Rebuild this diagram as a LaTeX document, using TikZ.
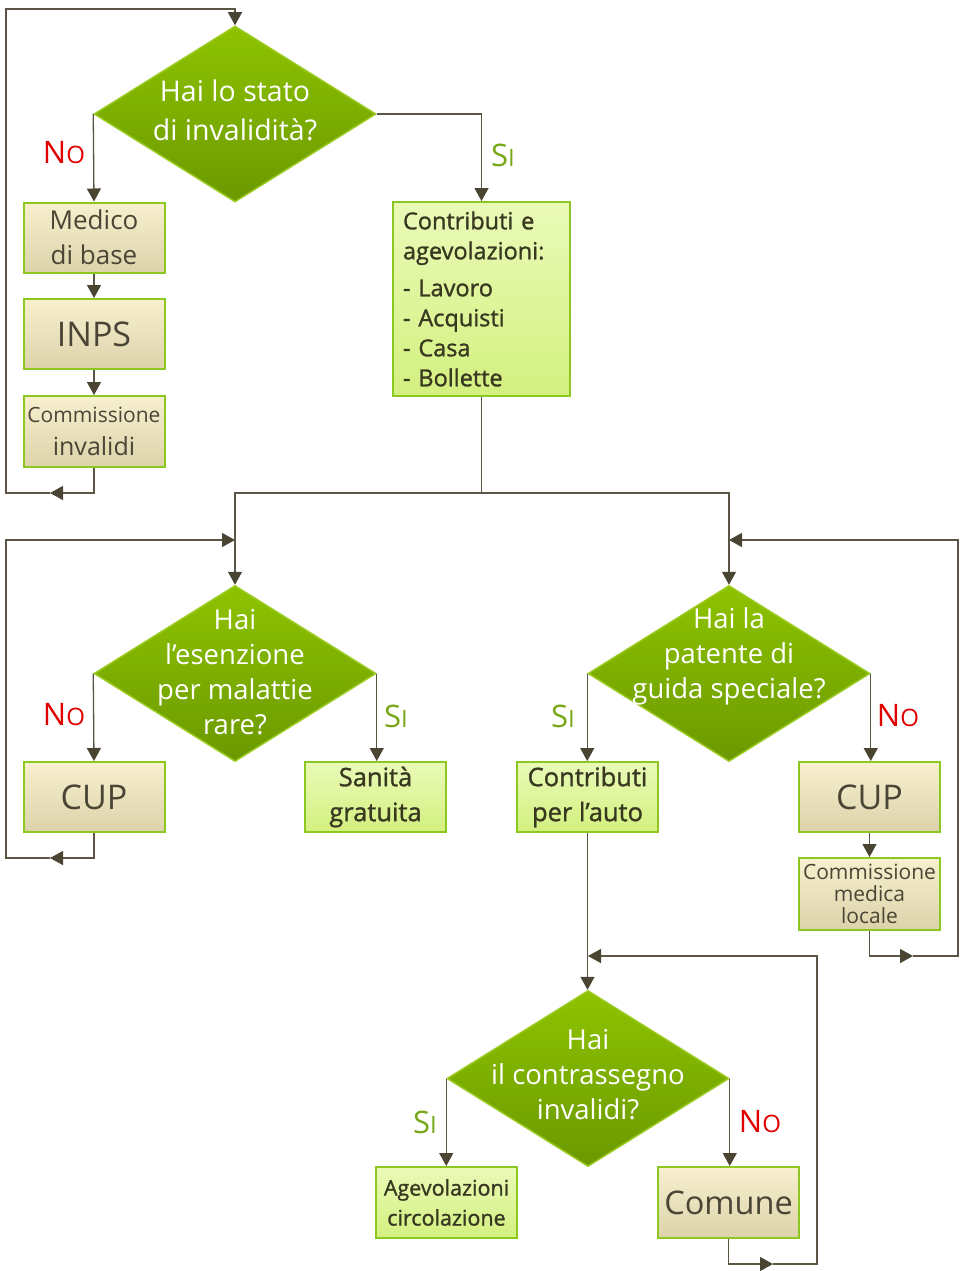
\documentclass[tikz,border=0pt]{standalone}
\usepackage{fontspec}
\setmainfont{Open Sans}
\usetikzlibrary{shapes.geometric,arrows.meta}
\definecolor{linec}{HTML}{5C5545}
\definecolor{tipc}{HTML}{4A4432}
\definecolor{dtop}{HTML}{8EC300}
\definecolor{dbot}{HTML}{6B9900}
\definecolor{dborder}{HTML}{9CCB20}
\definecolor{btop}{HTML}{F8F0CE}
\definecolor{bbot}{HTML}{DCD3AB}
\definecolor{gtop}{HTML}{EAFAB8}
\definecolor{gbot}{HTML}{D3F07F}
\definecolor{boxborder}{HTML}{8CC820}
\definecolor{txtc}{HTML}{4A4535}
\definecolor{gtxt}{HTML}{383820}
\definecolor{noc}{HTML}{E00000}
\definecolor{sic}{HTML}{78A818}
\newcommand\NoLab{{\fontsize{31}{31}\selectfont N\fontsize{24}{24}\selectfont O}}
\newcommand\SiLab{{\fontsize{31}{31}\selectfont S\fontsize{24}{24}\selectfont I}}
\newcommand\semib{\addfontfeatures{FakeBold=1.2}}
\tikzset{
  dia/.style={diamond, draw=dborder, line width=1.5pt, top color=dtop, bottom color=dbot,
    minimum width=282pt, minimum height=176pt, inner sep=0pt},
  diatext/.style={text=white, align=center, font=\fontsize{27.5}{35}\selectfont},
  beige/.style={rectangle, draw=boxborder, line width=2pt, top color=btop, bottom color=bbot,
    minimum width=141pt, minimum height=70pt, inner sep=0pt, text=txtc, align=center},
  lgreen/.style={rectangle, draw=boxborder, line width=2pt, top color=gtop, bottom color=gbot,
    minimum width=141pt, minimum height=70pt, inner sep=0pt, text=gtxt, align=center},
  conn/.style={draw=linec, line width=1.3pt},
  arr/.style={conn, -{Triangle[length=13pt,width=14pt,color=tipc]}},
  nolab/.style={text=noc, inner sep=0pt},
  silab/.style={text=sic, inner sep=0pt},
}
\begin{document}
\begin{tikzpicture}[x=1pt,y=-1pt]
\useasboundingbox[fill=white] (0,0) rectangle (962,1271);

% ---- diamonds
\node[dia] (d1) at (235,114) {};
\node[diatext, font=\fontsize{28.5}{39}\selectfont] (t1) at (235,110) {Hai lo stato\\di invalidità?};
\node[dia] (d2) at (235,673.5) {};
\node[diatext] (t2) at (235,672) {Hai\\l’esenzione\\per malattie\\rare?};
\node[dia] (d3) at (729,673.5) {};
\node[diatext] (t3) at (729,656) {Hai la\\patente di\\guida speciale?};
\node[dia] (d4) at (588,1078.5) {};
\node[diatext] (t4) at (588,1075) {Hai\\il contrassegno\\invalidi?};

% ---- boxes
\node[beige, font=\fontsize{26}{35}\selectfont] (medico) at (94,237.5) {Medico\\di base};
\node[beige, font=\fontsize{34}{35}\selectfont] (inps) at (94,334) {INPS};
\node[beige, minimum height=71pt, font=\fontsize{25}{33}\selectfont] (comm1) at (94,431.5)
  {{\fontsize{21}{30}\selectfont Commissione}\\invalidi};
\node[lgreen, minimum width=177pt, minimum height=194pt, text width=157pt, align=left,
  font=\fontsize{23.5}{30}\selectfont\semib] (contrib) at (481.5,299)
  {Contributi e\\agevolazioni:\\[7pt]- Lavoro\\- Acquisti\\- Casa\\- Bollette};
\node[beige, font=\fontsize{34}{35}\selectfont] (cup1) at (94,797) {CUP};
\node[lgreen, font=\fontsize{25.5}{35}\selectfont\semib] (sanita) at (375.5,797) {Sanità\\gratuita};
\node[lgreen, font=\fontsize{25.5}{35}\selectfont\semib] (auto) at (587.5,797) {Contributi\\per l’auto};
\node[beige, font=\fontsize{34}{35}\selectfont] (cup2) at (869.5,797) {CUP};
\node[beige, minimum height=72pt, font=\fontsize{21}{22}\selectfont] (comm2) at (869.5,894)
  {Commissione\\medica\\locale};
\node[lgreen, minimum height=71pt, font=\fontsize{21.5}{30}\selectfont\semib] (agev) at (446.5,1202.5)
  {Agevolazioni\\circolazione};
\node[beige, minimum height=71pt, font=\fontsize{32.5}{35}\selectfont] (comune) at (728.5,1202.5) {Comune};

% ---- labels
\node[nolab] (n1) at (64,153) {\NoLab};
\node[silab] (s1) at (503,155) {\SiLab};
\node[nolab] (n2) at (64,715) {\NoLab};
\node[silab] (s2) at (396,716) {\SiLab};
\node[silab] (s3) at (563,716) {\SiLab};
\node[nolab] (n3) at (898,716) {\NoLab};
\node[silab] (s4) at (425,1122) {\SiLab};
\node[nolab] (n4) at (760,1122) {\NoLab};

% ---- coordinates
\coordinate (l1m) at (50,493);
\coordinate (l1a) at (6,493);
\coordinate (l1b) at (6,9);
\coordinate (l1c) at (235,9);
\coordinate (j1) at (481.5,493);
\coordinate (jl) at (235,493);
\coordinate (jr) at (729,493);
\coordinate (l2m) at (50,858);
\coordinate (l2a) at (6,858);
\coordinate (l2b) at (6,540);
\coordinate (l2c) at (235,540);
\coordinate (l3m) at (913,956);
\coordinate (l3a) at (958,956);
\coordinate (l3b) at (958,540);
\coordinate (l3c) at (729,540);
\coordinate (l4m) at (773,1264);
\coordinate (l4a) at (817,1264);
\coordinate (l4b) at (817,956);
\coordinate (l4c) at (588,956);

% ---- connectors
\draw[arr] (d1.west) -- (medico.north);
\draw[arr] (medico.south) -- (inps.north);
\draw[arr] (inps.south) -- (comm1.north);
\draw[arr] (comm1.south) |- (l1m);
\draw[arr] (l1m) -- (l1a) -- (l1b) -- (l1c) -- (d1.north);
\draw[arr] (d1.east) -| (contrib.north);
\draw[conn] (contrib.south) -- (j1);
\draw[arr] (j1) -- (jl) -- (d2.north);
\draw[arr] (j1) -- (jr) -- (d3.north);

\draw[arr] (d2.west) -- (cup1.north);
\draw[arr] (d2.east) -- (d2.east |- sanita.north);
\draw[arr] (cup1.south) |- (l2m);
\draw[arr] (l2m) -- (l2a) -- (l2b) -- (l2c);

\draw[arr] (d3.west) -- (d3.west |- auto.north);
\draw[arr] (d3.east) -- (d3.east |- cup2.north);
\draw[arr] (cup2.south) -- (comm2.north);
\draw[arr] (comm2.south) |- (l3m);
\draw[arr] (l3m) -- (l3a) -- (l3b) -- (l3c);

\draw[arr] (auto.south) -- (auto.south |- d4.north);
\draw[arr] (d4.west) -- (d4.west |- agev.north);
\draw[arr] (d4.east) -- (d4.east |- comune.north);
\draw[arr] (comune.south) |- (l4m);
\draw[arr] (l4m) -- (l4a) -- (l4b) -- (l4c);
\end{tikzpicture}
\end{document}
